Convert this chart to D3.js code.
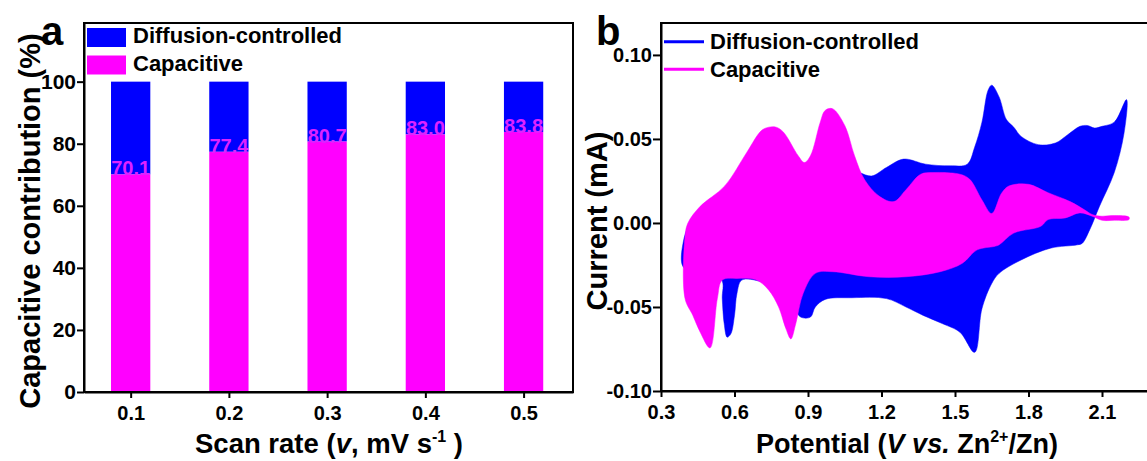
<!DOCTYPE html>
<html>
<head>
<meta charset="utf-8">
<script src="https://cdn.jsdelivr.net/npm/d3@7"></script>
<style>
  body { margin: 0; background: #fff; }
  text { font-family: "Liberation Sans", Arial, sans-serif; font-weight: bold; }
</style>
</head>
<body>
<div id="chart"></div>
<script>
// panel a: stacked bars
var scanRates = [0.1, 0.2, 0.3, 0.4, 0.5];
var capacitive = [70.1, 77.4, 80.7, 83.0, 83.8];
var diffusion = [29.9, 22.6, 19.3, 17.0, 16.2];
var aTicksY = [0, 20, 40, 60, 80, 100];

// panel b: CV loops, [potential V, current mA]
var blueUpper = [[0.39, -0.012], [0.42, 0.0], [0.50, 0.010], [0.60, 0.022], [0.70, 0.035], [0.80, 0.035],
  [0.90, 0.030], [1.00, 0.035], [1.06, 0.033], [1.11, 0.030], [1.16, 0.028], [1.22, 0.033], [1.29, 0.038],
  [1.38, 0.035], [1.48, 0.034], [1.55, 0.035], [1.58, 0.045], [1.61, 0.060], [1.635, 0.079], [1.65, 0.082],
  [1.68, 0.075], [1.71, 0.0615], [1.74, 0.057], [1.77, 0.0515], [1.84, 0.0466], [1.91, 0.0476], [1.96, 0.0525],
  [2.01, 0.0575], [2.04, 0.058], [2.07, 0.0565], [2.10, 0.0575], [2.15, 0.060], [2.20, 0.0734]];
var blueLower = [[2.19, 0.0535], [2.15, 0.030], [2.09, 0.010], [2.05, -0.004], [2.02, -0.012], [2.00, -0.013],
  [1.89, -0.015], [1.77, -0.022], [1.68, -0.030], [1.65, -0.036], [1.61, -0.051], [1.58, -0.077], [1.52, -0.065],
  [1.45, -0.060], [1.37, -0.055], [1.30, -0.050], [1.22, -0.045], [1.08, -0.0445], [0.97, -0.0455], [0.93, -0.050],
  [0.91, -0.056], [0.87, -0.056], [0.84, -0.050], [0.78, -0.040], [0.71, -0.035], [0.63, -0.034], [0.61, -0.042],
  [0.60, -0.055], [0.585, -0.066], [0.57, -0.068], [0.558, -0.060], [0.55, -0.045], [0.547, -0.034],
  [0.45, -0.030], [0.39, -0.026]];
var capUpper = [[0.398, -0.045], [0.398, -0.008], [0.41, 0.0], [0.46, 0.0099], [0.56, 0.022], [0.65, 0.042],
  [0.71, 0.055], [0.74, 0.057], [0.77, 0.057], [0.80, 0.054], [0.86, 0.040], [0.885, 0.036], [0.91, 0.040],
  [0.95, 0.060], [0.97, 0.067], [1.00, 0.068], [1.05, 0.058], [1.09, 0.040], [1.13, 0.026], [1.19, 0.016],
  [1.25, 0.0127], [1.30, 0.0198], [1.36, 0.029], [1.41, 0.030], [1.52, 0.029], [1.56, 0.026], [1.61, 0.0137],
  [1.65, 0.0056], [1.69, 0.0177], [1.72, 0.022], [1.80, 0.023], [1.88, 0.018], [1.97, 0.0127], [2.03, 0.0077],
  [2.06, 0.005], [2.10, 0.004], [2.15, 0.0044], [2.21, 0.0035]];
var capLower = [[2.21, 0.002], [2.15, 0.0016], [2.10, 0.0016], [2.06, 0.004], [2.01, 0.006], [1.95, 0.003],
  [1.88, 0.002], [1.85, -0.002], [1.74, -0.006], [1.68, -0.013], [1.66, -0.014], [1.59, -0.016], [1.53, -0.024],
  [1.44, -0.029], [1.30, -0.032], [1.15, -0.032], [1.00, -0.029], [0.93, -0.030], [0.88, -0.042], [0.85, -0.060],
  [0.83, -0.069], [0.81, -0.063], [0.78, -0.050], [0.74, -0.040], [0.69, -0.034], [0.61, -0.033], [0.55, -0.034],
  [0.53, -0.045], [0.50, -0.0744], [0.46, -0.065], [0.43, -0.055]];
var bTicksX = [0.3, 0.6, 0.9, 1.2, 1.5, 1.8, 2.1];
var bTicksY = [-0.10, -0.05, 0.00, 0.05, 0.10];

var blue = '#0000ff', magenta = '#ff00ff';

var svg = d3.select('#chart').append('svg').attr('width', 1147).attr('height', 461);

function plainFormat(spec) {
  var f = d3.format(spec);
  return function(d) { return f(d).replace('\u2212', '-'); };
}

function styleAxis(g, size) {
  g.selectAll('path.domain').attr('stroke', '#000').attr('stroke-width', 2);
  g.selectAll('.tick line').attr('stroke', '#000').attr('stroke-width', 2);
  g.selectAll('.tick text').attr('fill', '#000').style('font-size', size + 'px')
    .style('font-family', '"Liberation Sans", Arial, sans-serif').style('font-weight', 'bold');
}

/**
 * panel a
 **/
var ax = d3.scaleLinear().domain([0.0525, 0.5503]).range([84, 573]);
var ay = d3.scaleLinear().domain([0, 118.9]).range([392, 23]);
var barW = ax(0.12) - ax(0.08);

var ga = svg.append('g');
ga.selectAll('rect.diff').data(scanRates).enter().append('rect')
  .attr('x', function(d) { return ax(d) - barW / 2; })
  .attr('y', function(d, i) { return ay(capacitive[i] + diffusion[i]); })
  .attr('width', barW)
  .attr('height', function(d, i) { return ay(capacitive[i]) - ay(capacitive[i] + diffusion[i]); })
  .attr('fill', blue);
ga.selectAll('rect.cap').data(scanRates).enter().append('rect')
  .attr('x', function(d) { return ax(d) - barW / 2; })
  .attr('y', function(d, i) { return ay(capacitive[i]); })
  .attr('width', barW)
  .attr('height', function(d, i) { return ay(0) - ay(capacitive[i]); })
  .attr('fill', magenta);
ga.selectAll('text.val').data(scanRates).enter().append('text')
  .attr('x', function(d) { return ax(d); })
  .attr('y', function(d, i) { return ay(capacitive[i]) + 1; })
  .attr('text-anchor', 'middle')
  .attr('fill', '#dd22ff')
  .style('font-size', '20px')
  .text(function(d, i) { return capacitive[i].toFixed(1); });

ga.append('rect').attr('x', 84).attr('y', 23).attr('width', 573 - 84).attr('height', 392 - 23)
  .attr('fill', 'none').attr('stroke', '#000').attr('stroke-width', 2);

var axA = ga.append('g').attr('transform', 'translate(0,392)')
  .call(d3.axisBottom(ax).tickValues(scanRates).tickFormat(d3.format('.1f')).tickSize(6).tickSizeOuter(0).tickPadding(8));
styleAxis(axA, 20);
var ayA = ga.append('g').attr('transform', 'translate(84,0)')
  .call(d3.axisLeft(ay).tickValues(aTicksY).tickSize(7).tickSizeOuter(0).tickPadding(1));
styleAxis(ayA, 21);

// legend a
var legA = [['Diffusion-controlled', blue], ['Capacitive', magenta]];
legA.forEach(function(l, i) {
  ga.append('rect').attr('x', 87).attr('y', 28 + i * 27.5).attr('width', 39).attr('height', 19).attr('fill', l[1]);
  ga.append('text').attr('x', 133).attr('y', 43 + i * 28).style('font-size', '22px').text(l[0]);
});
ga.append('text').attr('x', 41).attr('y', 45).style('font-size', '40px').text('a');

// axis titles a
var tA = ga.append('text').attr('x', 329).attr('y', 453).attr('text-anchor', 'middle').style('font-size', '27.5px');
tA.append('tspan').text('Scan rate (');
tA.append('tspan').style('font-style', 'italic').text('v');
tA.append('tspan').text(', mV s');
tA.append('tspan').attr('dy', -11).style('font-size', '16px').text('-1');
tA.append('tspan').attr('dy', 11).text(' )');
ga.append('text').attr('transform', 'translate(40,221) rotate(-90)').attr('text-anchor', 'middle')
  .style('font-size', '29px').text('Capacitive contribution (%)');

/**
 * panel b
 **/
var bx = d3.scaleLinear().domain([0.3, 2.4]).range([661, 661 + 7 * 73.5]);
var by = d3.scaleLinear().domain([-0.10, 0.119]).range([391, 23]);
var gb = svg.append('g');

var loop = d3.line()
  .x(function(d) { return bx(d[0]); })
  .y(function(d) { return by(d[1]); })
  .curve(d3.curveCatmullRomClosed.alpha(0.5));

gb.append('path').attr('d', loop(blueUpper.concat(blueLower))).attr('fill', blue).attr('stroke', blue).attr('stroke-width', 0.5);
gb.append('path').attr('d', loop(capUpper.concat(capLower))).attr('fill', magenta).attr('stroke', magenta).attr('stroke-width', 0.5);

gb.append('rect').attr('x', 661).attr('y', 23).attr('width', 7 * 73.5).attr('height', 391 - 23)
  .attr('fill', 'none').attr('stroke', '#000').attr('stroke-width', 2);

var axB = gb.append('g').attr('transform', 'translate(0,391)')
  .call(d3.axisBottom(bx).tickValues(bTicksX).tickFormat(d3.format('.1f')).tickSize(6).tickSizeOuter(0).tickPadding(8));
styleAxis(axB, 20);
var ayB = gb.append('g').attr('transform', 'translate(661,0)')
  .call(d3.axisLeft(by).tickValues(bTicksY).tickFormat(plainFormat('.2f')).tickSize(8).tickSizeOuter(0).tickPadding(1));
styleAxis(ayB, 20);

// legend b
var legB = [['Diffusion-controlled', blue], ['Capacitive', magenta]];
legB.forEach(function(l, i) {
  gb.append('line').attr('x1', 664).attr('x2', 704).attr('y1', 41.7 + i * 27.5).attr('y2', 41.7 + i * 27.5)
    .attr('stroke', l[1]).attr('stroke-width', 3);
  gb.append('text').attr('x', 710).attr('y', 49 + i * 27.5).style('font-size', '22px').text(l[0]);
});
gb.append('text').attr('x', 596).attr('y', 45).style('font-size', '40px').text('b');

var tB = gb.append('text').attr('x', 907).attr('y', 453).attr('text-anchor', 'middle').style('font-size', '27px');
tB.append('tspan').text('Potential (');
tB.append('tspan').style('font-style', 'italic').text('V vs.');
tB.append('tspan').text(' Zn');
tB.append('tspan').attr('dy', -11).style('font-size', '16px').text('2+');
tB.append('tspan').attr('dy', 11).text('/Zn)');
gb.append('text').attr('transform', 'translate(607,221) rotate(-90)').attr('text-anchor', 'middle')
  .style('font-size', '29px').text('Current (mA)');
</script>
</body>
</html>
